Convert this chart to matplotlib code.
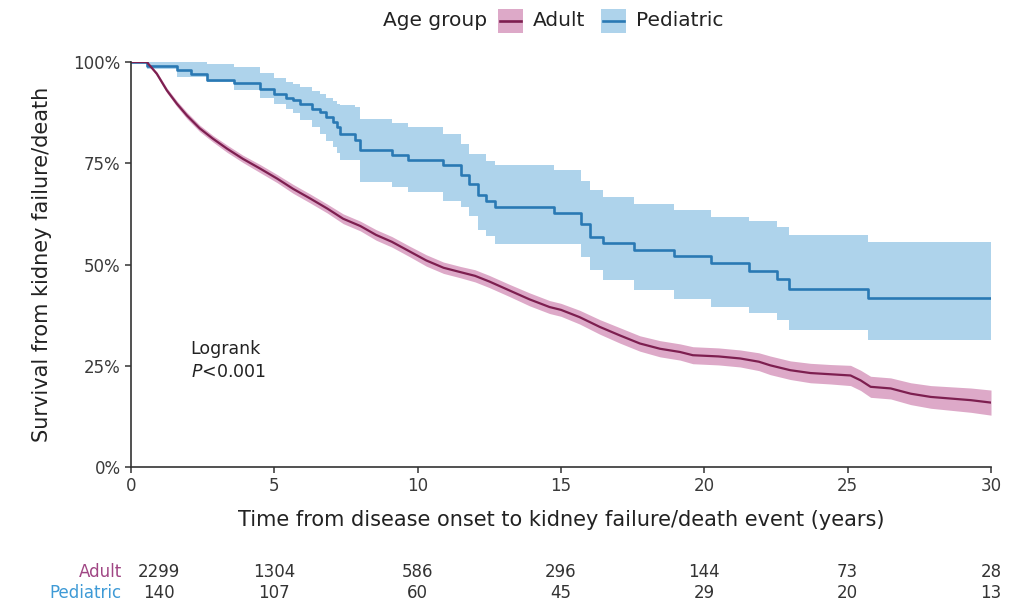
import matplotlib
matplotlib.use("Agg")
import matplotlib.pyplot as plt
from matplotlib.patches import Rectangle
from matplotlib.lines import Line2D
import matplotlib.transforms as mtransforms

plt.rcParams['font.family'] = ['DejaVu Sans']

# Adult curve, survival in %
adult_t = [0, 0.55, 0.9, 1.25, 1.6, 1.95, 2.4, 2.85, 3.35, 3.9, 4.5, 5.1, 5.65, 6.25,
           6.85, 7.4, 8.0, 8.55, 9.1, 9.7, 10.3, 10.9, 11.5, 12.0, 12.5, 13.2, 13.9,
           14.6, 15.0, 15.65, 16.35, 17.05, 17.75, 18.45, 19.15, 19.6, 20.5, 21.25,
           21.9, 22.3, 23.0, 23.7, 24.4, 25.1, 25.45, 25.8, 26.5, 27.2, 27.9, 28.6,
           29.3, 30.0]
adult_s = [100, 100, 97.1, 93.0, 89.7, 86.8, 83.6, 81.1, 78.6, 76.1, 73.7, 71.2, 68.7,
           66.3, 63.8, 61.3, 59.5, 57.3, 55.6, 53.3, 51.0, 49.2, 48.1, 47.2, 45.8, 43.6,
           41.4, 39.5, 38.8, 37.0, 34.6, 32.5, 30.5, 29.2, 28.4, 27.6, 27.3, 26.8, 26.0,
           25.1, 23.9, 23.2, 22.9, 22.6, 21.4, 19.8, 19.4, 18.1, 17.3, 16.9, 16.5, 15.9]
adult_hi = [100, 100, 97.6, 93.6, 90.4, 87.6, 84.4, 81.9, 79.5, 77.0, 74.7, 72.2, 69.8,
            67.4, 64.9, 62.5, 60.7, 58.6, 56.9, 54.6, 52.4, 50.6, 49.5, 48.7, 47.3, 45.1,
            43.0, 41.1, 40.4, 38.7, 36.4, 34.4, 32.4, 31.2, 30.4, 29.7, 29.4, 28.9, 28.2,
            27.4, 26.2, 25.6, 25.3, 25.1, 23.9, 22.4, 22.0, 20.8, 20.1, 19.8, 19.5, 19.0]
adult_lo = [100, 100, 96.6, 92.4, 89.0, 86.0, 82.8, 80.3, 77.7, 75.2, 72.7, 70.2, 67.6,
            65.2, 62.7, 60.1, 58.3, 56.0, 54.3, 52.0, 49.6, 47.8, 46.7, 45.7, 44.3, 42.1,
            39.8, 37.9, 37.2, 35.3, 32.8, 30.6, 28.6, 27.2, 26.4, 25.5, 25.2, 24.7, 23.8,
            22.8, 21.6, 20.8, 20.5, 20.1, 18.9, 17.2, 16.8, 15.4, 14.5, 14.0, 13.5, 12.8]

# Pediatric curve (step function)
ped_t = [0, 0.55, 1.6, 2.1, 2.64, 3.6, 4.5, 5.0, 5.4, 5.66, 5.9, 6.3, 6.6, 6.8, 7.05,
         7.17, 7.3, 7.8, 8.0, 9.1, 9.65, 10.9, 11.5, 11.8, 12.1, 12.4, 12.7, 14.75,
         15.7, 16.0, 16.45, 17.55, 18.95, 20.25, 21.55, 22.55, 22.95, 25.7, 30.0]
ped_s = [100, 98.9, 98.1, 97.1, 95.6, 94.7, 93.4, 92.2, 91.2, 90.5, 89.7, 88.5, 87.7,
         86.4, 85.2, 84.0, 82.3, 80.7, 78.2, 77.0, 75.7, 74.5, 72.0, 70.0, 67.1, 65.8,
         64.2, 62.7, 60.1, 56.8, 55.3, 53.7, 52.0, 50.4, 48.4, 46.3, 44.0, 41.8, 41.8]
ped_hi = [100, 100, 100, 100, 99.5, 98.8, 97.3, 96.0, 95.0, 94.5, 93.8, 92.8, 92.2,
          91.2, 90.3, 89.7, 89.3, 88.9, 86.0, 85.0, 84.0, 82.3, 79.8, 77.4, 77.4, 75.5,
          74.5, 73.3, 70.5, 68.3, 66.7, 65.0, 63.4, 61.7, 60.7, 59.3, 57.2, 55.6, 55.6]
ped_lo = [100, 98.3, 96.3, 96.3, 95.0, 93.0, 91.0, 89.7, 88.5, 87.3, 85.6, 84.0, 82.3,
          80.5, 79.0, 77.5, 75.7, 75.7, 70.4, 69.1, 67.9, 65.8, 64.2, 62.0, 58.4, 57.0,
          55.1, 55.1, 51.9, 48.6, 46.1, 43.6, 41.6, 39.5, 38.0, 36.2, 33.8, 31.3, 31.3]

# Number at risk table
risk_times = [0, 5, 10, 15, 20, 25, 30]
adult_risk = [2299, 1304, 586, 296, 144, 73, 28]
ped_risk = [140, 107, 60, 45, 29, 20, 13]

adult_col = '#7D1F50'
adult_fill = '#DDA9C8'
ped_col = '#2A79B4'
ped_fill = '#AED3EB'
axis_col = '#333333'

fig = plt.figure(figsize=(10.2, 6.06), dpi=100)
ax = fig.add_axes([131 / 1020, (606 - 467) / 606, 860 / 1020, 405 / 606])

ax.fill_between(ped_t, ped_lo, ped_hi, step='post', color=ped_fill, lw=0)
ax.fill_between(adult_t, adult_lo, adult_hi, color=adult_fill, lw=0)
ax.step(ped_t, ped_s, where='post', color=ped_col, lw=1.9)
ax.plot(adult_t, adult_s, color=adult_col, lw=1.6)

ax.set_xlim(0, 30)
ax.set_ylim(0, 100)
ax.set_xticks([0, 5, 10, 15, 20, 25, 30])
ax.set_yticks([0, 25, 50, 75, 100])
ax.set_yticklabels(['0%', '25%', '50%', '75%', '100%'])
for s in ['top', 'right']:
    ax.spines[s].set_visible(False)
for s in ['left', 'bottom']:
    ax.spines[s].set_color(axis_col)
    ax.spines[s].set_linewidth(1.2)
ax.tick_params(colors=axis_col, labelcolor='#3a3a3a', labelsize=12, length=4, width=1.1)

ax.set_xlabel('Time from disease onset to kidney failure/death event (years)',
              fontsize=15, color='#222222', va='center')
ax.xaxis.set_label_coords(0.5, -0.13)
ax.set_ylabel('Survival from kidney failure/death', fontsize=15, color='#222222')
ax.yaxis.set_label_coords(-0.092, 0.5)

ax.text(2.08, 29.1, 'Logrank', fontsize=12.5, va='center', ha='left', color='#222222')
ax.text(2.08, 23.5, '$P$<0.001', fontsize=12.5, va='center', ha='left', color='#222222')

# legend on top
ly = 1 - 20.7 / 606
fig.text(383 / 1020, ly, 'Age group', fontsize=14.5, va='center', ha='left', color='#222222')
for x0, fc, lc, lab in [(498, adult_fill, adult_col, 'Adult'), (601, ped_fill, ped_col, 'Pediatric')]:
    fig.patches.append(Rectangle((x0 / 1020, ly - 12 / 606), 25 / 1020, 24 / 606,
                                 transform=fig.transFigure, facecolor=fc, edgecolor='none'))
    fig.lines.append(Line2D([(x0 + 2) / 1020, (x0 + 23) / 1020], [ly, ly],
                            transform=fig.transFigure, color=lc, lw=1.9))
    fig.text((x0 + 35) / 1020, ly, lab, fontsize=14.5, va='center', ha='left', color='#222222')

# risk table
trans = mtransforms.blended_transform_factory(ax.transData, fig.transFigure)
rows = [(1 - 572 / 606, adult_risk, 'Adult', '#A04684'), (1 - 593 / 606, ped_risk, 'Pediatric', '#3E9AD6')]
for y, vals, lab, c in rows:
    fig.text(122 / 1020, y, lab, fontsize=12, ha='right', va='center', color=c)
    for i, (t, v) in enumerate(zip(risk_times, vals)):
        dx = 20 if i == 0 else 0
        ax.annotate(str(v), xy=(t, y), xycoords=trans, xytext=(dx, 0),
                    textcoords='offset points', ha='center', va='center',
                    fontsize=12, color='#333333', annotation_clip=False)

fig.savefig('out.png', dpi=100)
